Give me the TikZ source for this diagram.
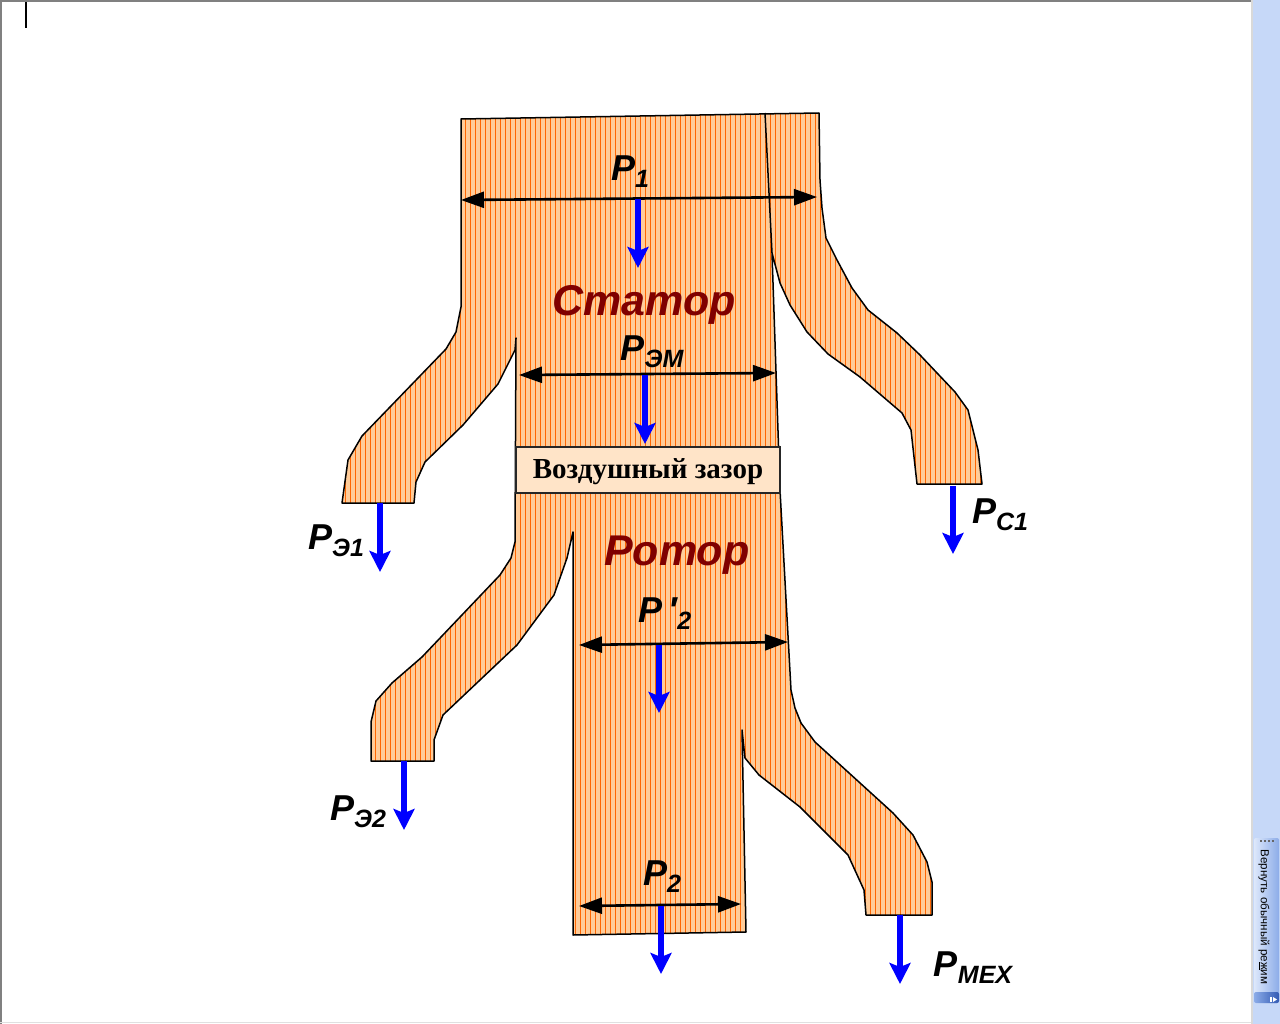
\documentclass[tikz,border=0pt]{standalone}
\usepackage{fontspec}
\setmainfont{Liberation Sans}
\newfontfamily\gapfont{Liberation Serif}
\usepackage{tikz}
\usetikzlibrary{positioning, arrows.meta}
\definecolor{flow_light}{RGB}{255,204,153}
\definecolor{flow_stripe}{RGB}{255,102,0}
\definecolor{gap_fill}{RGB}{255,228,200}
\definecolor{title_red}{RGB}{128,0,0}
\definecolor{bar_blue}{RGB}{198,216,248}
\definecolor{btn_edge}{RGB}{140,172,232}
\definecolor{btn_dark}{RGB}{50,90,180}
\newcommand{\lowidx}[1]{{\fontsize{25}{25}\selectfont\raisebox{-7pt}{#1}}}
\begin{document}
\begin{tikzpicture}[
      x=1pt, y=-1pt,
      span_arrow/.style={{Triangle[length=23pt,width=16pt]}-{Triangle[length=23pt,width=16pt]}, line width=2.6pt, black},
      loss_arrow/.style={-{Stealth[length=21pt,width=21pt,inset=4pt]}, line width=6.5pt, blue},
      label_var/.style={inner sep=0pt, font=\bfseries\itshape\fontsize{36}{36}\selectfont},
      label_part/.style={inner sep=0pt, text=title_red, font=\bfseries\itshape\fontsize{43}{43}\selectfont},
      gap_box/.style={draw=black!85, line width=1.6pt, fill=gap_fill, inner sep=0pt, text height=16pt, text depth=0pt, font=\gapfont\bfseries\fontsize{29}{29}\selectfont}
    ]
      \useasboundingbox (0,0) rectangle (1280,1024);
      \fill[white] (0,0) rectangle (1280,1024);

      % window
      \fill[bar_blue] (1252,0) rectangle (1280,1024);
      \fill[black!50] (0,0) rectangle (1252,2);
      \fill[black!50] (0,0) rectangle (1.5,1024);
      \fill[black!12] (0,1022) rectangle (1252,1023);
      \fill[black!15] (1251,0) rectangle (1252.5,1024);
      \fill[black] (25,2) rectangle (27,28);
      \shade[left color=bar_blue!60!white, right color=btn_edge, rounded corners=2pt] (1254,838) rectangle (1279,1003);
      \shade[left color=btn_edge, right color=btn_dark, rounded corners=2pt] (1254,992) rectangle (1279,1003);
      \foreach \y in {1260,1264,1268,1272} \fill[black!60] (\y,840) rectangle ++(1.5,1.5);
      \fill[white] (1270,997) rectangle ++(1.5,5);
      \fill[white] (1273,997) -- (1277,999.5) -- (1273,1002) -- cycle;
      \node[rotate=-90, inner sep=0pt, font=\fontsize{11.6}{11.6}\selectfont] (btn_text) at (1264,917) {Вернуть обычный ре\underline{ж}им};

      % flow shape
      \def\flowoutline{(461,119) -- (819,113) -- (820,180) -- (822,208) -- (826,238) -- (837,260) -- (852,288) -- (868,310) -- (897,333) -- (920,355) -- (955,392) -- (968,410) -- (978,450) -- (982,484) -- (917,484) -- (911,430) -- (902,413) -- (860,377) -- (828,354) -- (807,332) -- (790,305) -- (780,283) -- (772,253) -- (780,490) -- (791,690) -- (795,708) -- (801,723) -- (815,742) -- (893,813) -- (913,835) -- (927,862) -- (932,882) -- (932,915) -- (866,915) -- (864,890) -- (848,855) -- (800,807) -- (759,775) -- (745,758) -- (742,730) -- (746,932) -- (573,935) -- (573,532) -- (567,558) -- (554,595) -- (517,645) -- (443,715) -- (434,740) -- (434,761) -- (371,761) -- (371,722) -- (376,701) -- (392,683) -- (422,657) -- (500,575) -- (511,558) -- (515,542) -- (516,338) -- (515,350) -- (498,384) -- (463,425) -- (425,462) -- (416,482) -- (414,503) -- (342,503) -- (348,460) -- (362,436) -- (446,349) -- (456,332) -- (461,307) -- cycle}
      \fill[flow_light] \flowoutline;
      \begin{scope}
        \clip \flowoutline;
        \foreach \x in {340,345,...,985} \fill[flow_stripe] (\x,100) rectangle ++(1.3,850);
      \end{scope}
      \draw[line width=1.5pt, line join=round] \flowoutline;
      \coordinate (split_top) at (765,113);
      \coordinate (split_low) at (772,253);
      \draw[line width=1.5pt] (split_top) -- (split_low);

      \node[gap_box, minimum width=264pt, minimum height=46pt] (gap) at (648,470) {Воздушный зазор};
      \node[label_part] (stator) at (644,305) {Статор};
      \node[label_part] (rotor) at (677,555) {Ротор};

      % spans
      \coordinate (p1_l) at (461,200);
      \coordinate (p1_r) at (817,197);
      \coordinate (pem_l) at (519,375);
      \coordinate (pem_r) at (776,373);
      \coordinate (pp2_l) at (579,645);
      \coordinate (pp2_r) at (788,642);
      \coordinate (p2_l) at (579,906);
      \coordinate (p2_r) at (741,904);
      \draw[span_arrow] (p1_l) -- (p1_r);
      \draw[span_arrow] (pem_l) -- (pem_r);
      \draw[span_arrow] (pp2_l) -- (pp2_r);
      \draw[span_arrow] (p2_l) -- (p2_r);

      % losses
      \foreach \name/\xa/\ya/\yb in {p1/638/199/268, pem/645/375/444, pp2/659/645/713, p2/661/906/974, pe1/380/503/572, pc1/953/486/554, pe2/404/761/830, pmex/900/915/984} {
        \coordinate (\name_a) at (\xa,\ya);
        \coordinate (\name_b) at (\xa,\yb);
        \draw[loss_arrow] (\name_a) -- (\name_b);
      }

      \node[label_var] (lab_p1) at (630,172) {P\lowidx{1}};
      \node[label_var] (lab_pem) at (652,352) {P\lowidx{ЭМ}};
      \node[label_var] (lab_pp2) at (665,614) {P\,′\lowidx{2}};
      \node[label_var] (lab_p2) at (662,877) {P\lowidx{2}};
      \node[label_var] (lab_pe1) at (336,541) {P\lowidx{Э1}};
      \node[label_var] (lab_pc1) at (1000,515) {P\lowidx{С1}};
      \node[label_var] (lab_pe2) at (358,812) {P\lowidx{Э2}};
      \node[label_var] (lab_pmex) at (973,968) {P\lowidx{МЕХ}};
    \end{tikzpicture}
\end{document}
